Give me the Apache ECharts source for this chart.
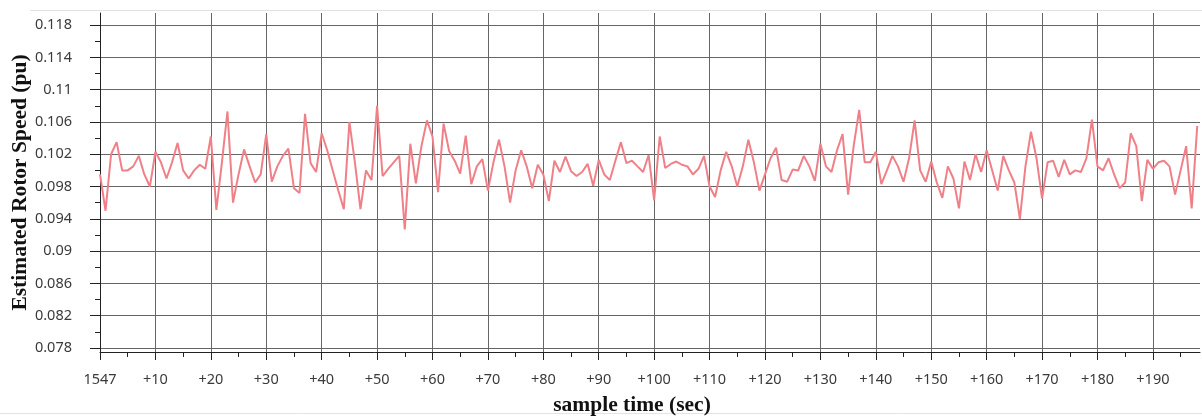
<!DOCTYPE html>
<html>
<head>
<meta charset="utf-8">
<script src="https://cdn.jsdelivr.net/npm/echarts@6/dist/echarts.min.js"></script>
<style>
  html, body { margin: 0; padding: 0; background: #ffffff; }
  #chart { width: 1202px; height: 417px; }
</style>
</head>
<body>
<div id="chart"></div>
<script>
// Sample offsets (seconds after 1547) with major / minor tick positions
const xMajorTicks = [0, 10, 20, 30, 40, 50, 60, 70, 80, 90, 100, 110, 120, 130, 140, 150, 160, 170, 180, 190];
const xMinorTicks = [5, 15, 25, 35, 45, 55, 65, 75, 85, 95, 105, 115, 125, 135, 145, 155, 165, 175, 185, 195];
const xTickLabels = ['1547', '+10', '+20', '+30', '+40', '+50', '+60', '+70', '+80', '+90', '+100',
  '+110', '+120', '+130', '+140', '+150', '+160', '+170', '+180', '+190'];

// Rotor speed axis ticks (pu)
const yMajorTicks = [0.078, 0.082, 0.086, 0.09, 0.094, 0.098, 0.102, 0.106, 0.11, 0.114, 0.118];
const yMinorTicks = [0.080, 0.084, 0.088, 0.092, 0.096, 0.100, 0.104, 0.108, 0.112, 0.116];
const yTickLabels = ['0.078', '0.082', '0.086', '0.09', '0.094', '0.098', '0.102', '0.106', '0.11', '0.114', '0.118'];

// Estimated rotor speed, one value per second
const rotorSpeed = [
  0.0995, 0.0950, 0.1020, 0.1035, 0.1000, 0.1000, 0.1005, 0.1018, 0.0995, 0.0980,
  0.1023, 0.1010, 0.0990, 0.1010, 0.1034, 0.1000, 0.0990, 0.1000, 0.1007, 0.1002,
  0.1042, 0.0951, 0.1010, 0.1073, 0.0960, 0.0995, 0.1026, 0.1005, 0.0985, 0.0995,
  0.1045, 0.0986, 0.1005, 0.1018, 0.1027, 0.0978, 0.0972, 0.1070, 0.1009, 0.0998,
  0.1046, 0.1025, 0.1000, 0.0975, 0.0952, 0.1060, 0.1010, 0.0952, 0.1000, 0.0988,
  0.1080, 0.0993, 0.1002, 0.1010, 0.1018, 0.0927, 0.1033, 0.0984, 0.1030, 0.1062,
  0.1042, 0.0973, 0.1058, 0.1024, 0.1012, 0.0996, 0.1043, 0.0983, 0.1005, 0.1014,
  0.0975, 0.1010, 0.1038, 0.1005, 0.0960, 0.1000, 0.1025, 0.1005, 0.0978, 0.1007,
  0.0995, 0.0962, 0.1012, 0.0998, 0.1017, 0.0999, 0.0993, 0.0998, 0.1008, 0.0981,
  0.1013, 0.0995, 0.0988, 0.1012, 0.1035, 0.1009, 0.1012, 0.1005, 0.0998, 0.1019,
  0.0963, 0.1042, 0.1003, 0.1008, 0.1011, 0.1007, 0.1005, 0.0995, 0.1002, 0.1018,
  0.0980, 0.0967, 0.1000, 0.1023, 0.1005, 0.0980, 0.1005, 0.1038, 0.1010, 0.0975,
  0.0995, 0.1015, 0.1028, 0.0988, 0.0986, 0.1001, 0.1000, 0.1018, 0.1005, 0.0987,
  0.1033, 0.1005, 0.0998, 0.1025, 0.1045, 0.0970, 0.1030, 0.1075, 0.1010, 0.1010,
  0.1023, 0.0983, 0.1000, 0.1018, 0.1005, 0.0986, 0.1015, 0.1062, 0.1000, 0.0986,
  0.1011, 0.0985, 0.0966, 0.1005, 0.0990, 0.0953, 0.1011, 0.0988, 0.1020, 0.0998,
  0.1025, 0.1000, 0.0975, 0.1018, 0.1000, 0.0985, 0.0940, 0.1005, 0.1048, 0.1015,
  0.0965, 0.1010, 0.1012, 0.0992, 0.1013, 0.0995, 0.1000, 0.0998, 0.1015, 0.1063,
  0.1005, 0.1000, 0.1015, 0.0995, 0.0978, 0.0985, 0.1046, 0.1030, 0.0962, 0.1013,
  0.1002, 0.1010, 0.1012, 0.1005, 0.0970, 0.1000, 0.1030, 0.0953, 0.1055
];

const labelFont = { fontFamily: 'Noto Sans', fontSize: 14.5, color: '#3a3a3a' };
const titleFont = { fontFamily: 'Liberation Serif', fontWeight: 'bold', fontSize: 21.5, color: '#111111' };
const axisInk = '#222222';
const gridInk = '#666666';

function pick(ticks, labels, v) {
  for (let k = 0; k < ticks.length; k++) {
    if (Math.abs(ticks[k] - v) < 1e-7) return labels[k];
  }
  return '';
}

const chart = echarts.init(document.getElementById('chart'), null, { renderer: 'canvas' });

chart.setOption({
  animation: false,
  backgroundColor: '#ffffff',
  grid: { left: 100, right: 2, top: 13, bottom: 65, containLabel: false, outerBoundsMode: 'none' },
  graphic: [
    { type: 'line', shape: { x1: 30, y1: 10.5, x2: 1202, y2: 10.5 }, style: { stroke: '#e2e2e2', lineWidth: 1 }, silent: true },
    { type: 'line', shape: { x1: 0, y1: 413.5, x2: 1202, y2: 413.5 }, style: { stroke: '#e4e4e4', lineWidth: 1 }, silent: true }
  ],
  xAxis: [
    {
      type: 'value', position: 'bottom', min: 0, max: 198.5,
      axisLine: { show: true, lineStyle: { color: axisInk, width: 1 } },
      axisTick: { show: true, customValues: xMajorTicks, length: 8, lineStyle: { color: axisInk } },
      axisLabel: Object.assign({ customValues: xMajorTicks, margin: 20,
        formatter: v => pick(xMajorTicks, xTickLabels, v) }, labelFont),
      splitLine: { show: true, lineStyle: { color: gridInk, width: 1 } },
      name: 'sample time (sec)', nameLocation: 'middle', nameGap: 42, nameMoveOverlap: false,
      nameTextStyle: Object.assign({ padding: [0, 36, 0, 0] }, titleFont)
    },
    {
      type: 'value', position: 'bottom', min: 0, max: 198.5,
      axisLine: { show: false },
      axisTick: { show: true, customValues: xMinorTicks, length: 5, lineStyle: { color: axisInk } },
      axisLabel: { show: false },
      splitLine: { show: false }
    }
  ],
  yAxis: [
    {
      type: 'value', position: 'left', min: 0.0775, max: 0.1195,
      axisLine: { show: true, lineStyle: { color: axisInk, width: 1 } },
      axisTick: { show: true, customValues: yMajorTicks, length: 10, lineStyle: { color: axisInk } },
      axisLabel: Object.assign({ customValues: yMajorTicks, margin: 28,
        formatter: v => pick(yMajorTicks, yTickLabels, v) }, labelFont),
      splitLine: { show: true, lineStyle: { color: gridInk, width: 1 } },
      name: 'Estimated Rotor Speed (pu)', nameLocation: 'middle', nameGap: 69, nameMoveOverlap: false,
      nameTextStyle: titleFont
    },
    {
      type: 'value', position: 'left', min: 0.0775, max: 0.1195,
      axisLine: { show: false },
      axisTick: { show: true, customValues: yMinorTicks, length: 5, lineStyle: { color: axisInk } },
      axisLabel: { show: false },
      splitLine: { show: false }
    }
  ],
  series: [
    {
      type: 'line',
      xAxisIndex: 0, yAxisIndex: 0,
      data: rotorSpeed.map((v, i) => [i, v]),
      showSymbol: false,
      clip: true,
      lineStyle: { color: '#f08088', width: 2 }
    }
  ]
});
</script>
</body>
</html>
